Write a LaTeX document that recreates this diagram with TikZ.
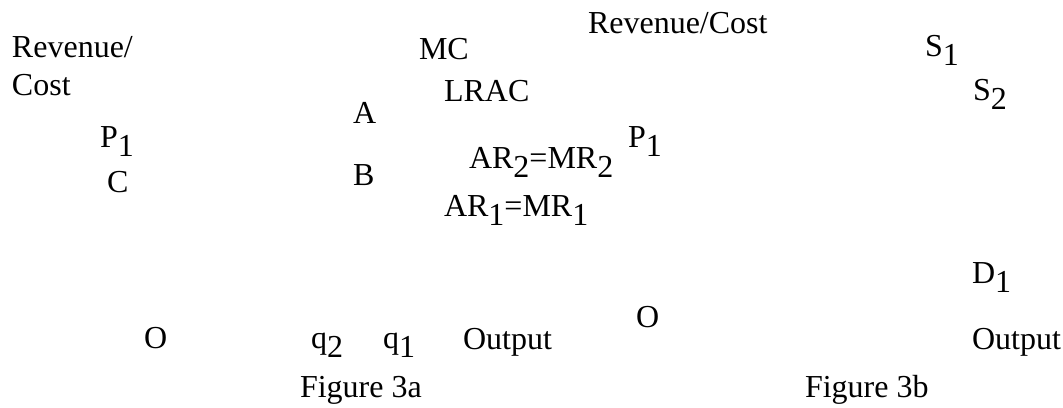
\documentclass[tikz,border=0pt]{standalone}
\usepackage{fontspec}
\setmainfont{Liberation Serif}
\usepackage{tikz}
\usetikzlibrary{positioning}

\newcommand{\lowsub}[1]{\raisebox{-9pt}{#1}}

\begin{document}
\begin{tikzpicture}[
    x=1pt, y=-1pt,
    lbl/.style={anchor=base west, inner sep=0pt, outer sep=0pt, font=\fontsize{32}{38}\selectfont}
]
    \useasboundingbox (0,0) rectangle (1063,407);

    % Figure 3a: axes labels
    \node (rev1) [lbl] at (12,57) {Revenue/};
    \node (cost1) [lbl] at (12,95) {Cost};
    \node (o1) [lbl] at (144,348) {O};
    \node (out1) [lbl] at (463,349) {Output};

    % Figure 3a: curves and points
    \node (mc) [lbl] at (419,59) {MC};
    \node (lrac) [lbl] at (444,101) {LRAC};
    \node (ptA) [lbl] at (353,123) {A};
    \node (ptB) [lbl] at (353,185) {B};
    \node (ar2) [lbl] at (469,168) {AR\lowsub{2}=MR\lowsub{2}};
    \node (ar1) [lbl] at (444,216) {AR\lowsub{1}=MR\lowsub{1}};
    \node (p1a) [lbl] at (100,147) {P\lowsub{1}};
    \node (c1) [lbl] at (107,192) {C};
    \node (q2) [lbl] at (311,348) {q\lowsub{2}};
    \node (q1) [lbl] at (383,348) {q\lowsub{1}};
    \node (fig3a) [lbl] at (300,397) {Figure 3a};

    % Figure 3b: axes labels
    \node (rev2) [lbl] at (588,33) {Revenue/Cost};
    \node (o2) [lbl] at (636,327) {O};
    \node (out2) [lbl] at (972,349) {Output};

    % Figure 3b: supply and demand
    \node (p1b) [lbl] at (628,147) {P\lowsub{1}};
    \node (s1) [lbl] at (925,56) {S\lowsub{1}};
    \node (s2) [lbl] at (973,100) {S\lowsub{2}};
    \node (d1) [lbl] at (972,283) {D\lowsub{1}};
    \node (fig3b) [lbl] at (805,397) {Figure 3b};

\end{tikzpicture}
\end{document}
